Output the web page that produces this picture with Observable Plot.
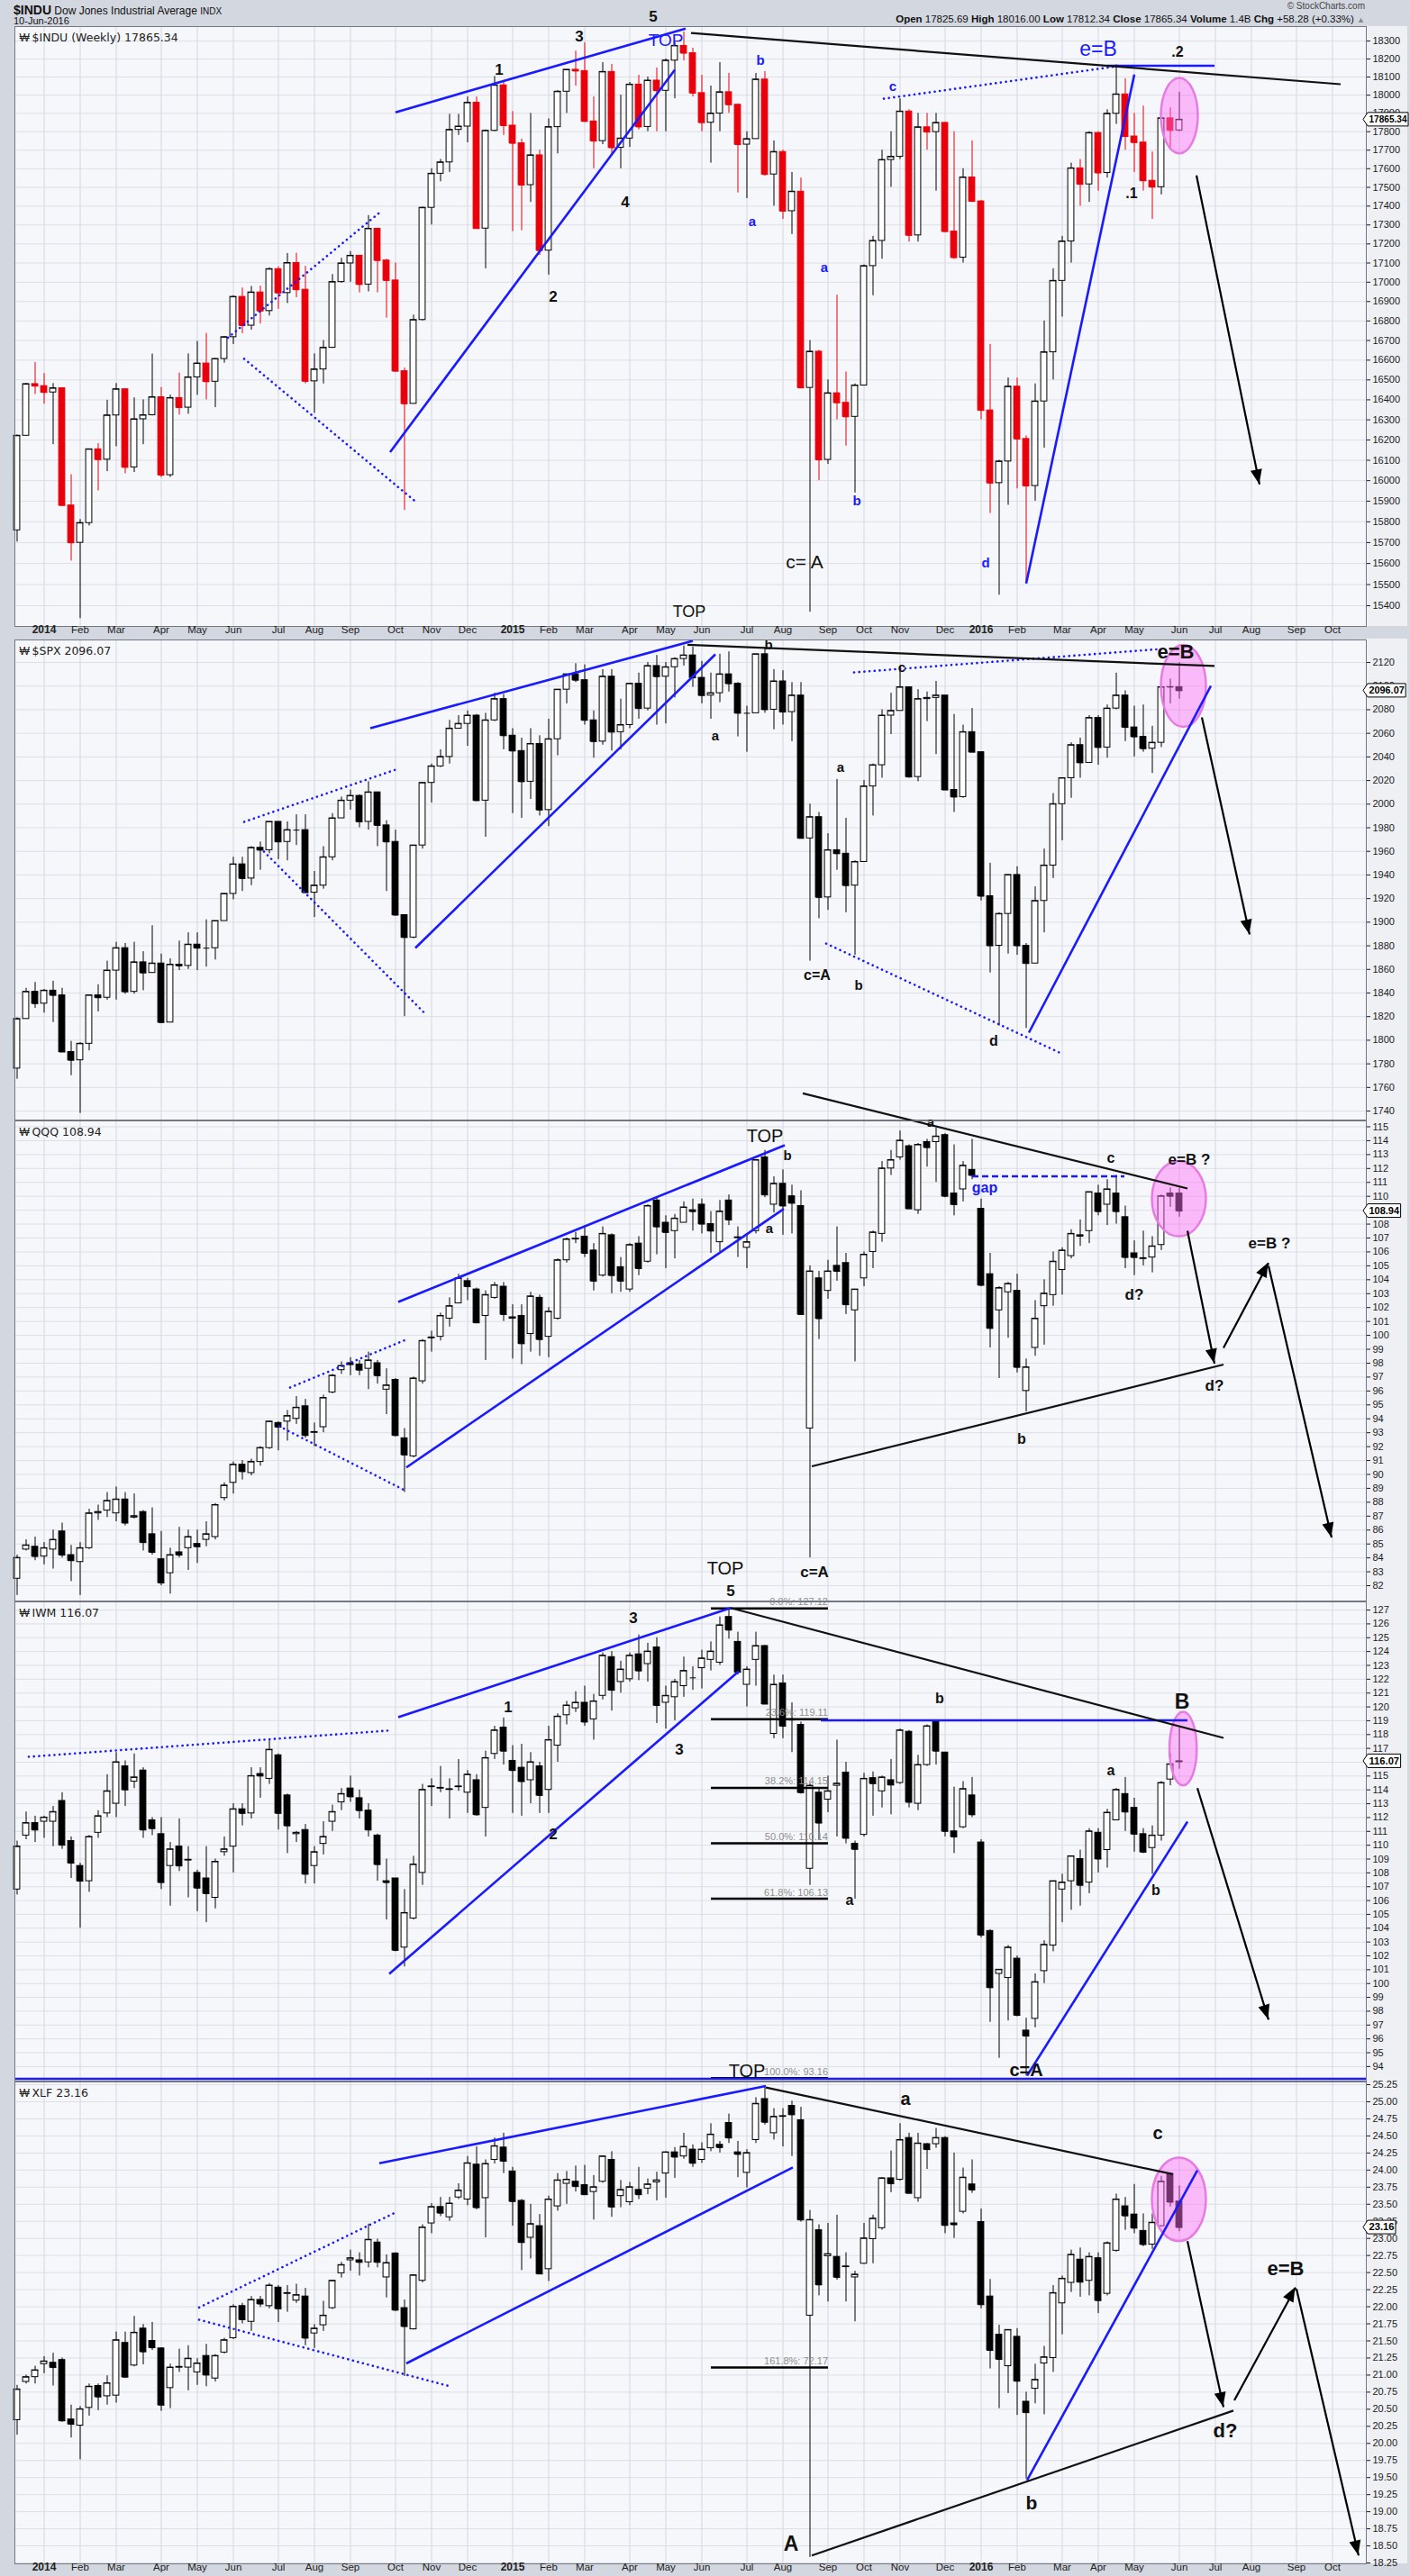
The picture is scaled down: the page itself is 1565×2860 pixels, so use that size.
<!DOCTYPE html>
<html>
<head>
<meta charset="utf-8">
<script src="https://cdn.jsdelivr.net/npm/d3@7"></script>
<script src="https://cdn.jsdelivr.net/npm/@observablehq/plot@0.6"></script>
<style>
html,body{margin:0;padding:0;background:#d3d7df;}
#wrap{position:relative;width:1565px;height:2860px;overflow:hidden;background:#d3d7df;font-family:"Liberation Sans",Arial,sans-serif;color:#111;}
#wrap svg{position:absolute;left:0;overflow:visible;}
.hd{position:absolute;white-space:nowrap;}
</style>
</head>
<body>
<div id="wrap">
 <div class="hd" style="left:1516px;top:29px;width:46px;height:666px;background:#eef0f4"></div>
 <div class="hd" style="left:1516px;top:709px;width:46px;height:2137px;background:#eef0f4"></div>
 <div class="hd" style="left:15px;top:3px;font-size:12px"><b style="font-size:14px">$INDU</b> Dow Jones Industrial Average <span style="font-size:10px">INDX</span></div>
 <div class="hd" style="left:15px;top:17px;font-size:11px">10-Jun-2016</div>
 <div class="hd" style="right:50px;top:1px;font-size:10px;color:#444">&copy; StockCharts.com</div>
 <div class="hd" style="right:50px;top:15px;font-size:11.5px"><b>Open</b> 17825.69 <b>High</b> 18016.00 <b>Low</b> 17812.34 <b>Close</b> 17865.34 <b>Volume</b> 1.4B <b>Chg</b> +58.28 (+0.33%) <span style="color:#888;font-size:9px">&#9650;</span></div>
</div>
<script>
// ---------- calendar (weekly bars, index 0 = week of 16-Dec-2013) ----------
const monthIdx = [3,7,11,16,20,24,29,33,37,42,46,50,55,59,63,68,72,76,81,85,90,94,98,103,107,111,116,120,124,129,133,137,142,146];
const monthNames = ["2014","Feb","Mar","Apr","May","Jun","Jul","Aug","Sep","Oct","Nov","Dec","2015","Feb","Mar","Apr","May","Jun","Jul","Aug","Sep","Oct","Nov","Dec","2016","Feb","Mar","Apr","May","Jun","Jul","Aug","Sep","Oct"];

// ---------- $INDU weekly ----------
const dowFirstOpen = 15759;
const dowC = [16221,16479,16469,16437,16458,15879,15699,15794,16154,16103,
16322,16453,16065,16303,16323,16413,16027,16409,16361,16513,
16583,16491,16606,16717,16924,16776,16947,16851,17068,16944,
17100,16961,16493,16553,16663,17001,17098,17138,16988,17280,
17113,17009,16544,16380,16805,17391,17573,17634,17810,17828,
17958,17281,17805,18054,17833,17737,17512,17672,17165,17825,
18019,18140,18133,17856,17749,18128,17713,17763,18058,17826,
18080,18024,18191,18273,18232,18011,17849,17899,18016,17947,
17730,17760,18086,17569,17690,17373,17477,16460,16643,16102,
16433,16385,16315,16472,17084,17216,17647,17664,17910,17245,
17824,17798,17848,17265,17128,17553,17425,16347,15988,16094,
16466,16205,15974,16392,16640,17007,17213,17602,17516,17793,
17577,17898,18004,17774,17741,17535,17501,17873,17807,17865.34];
const dowH = [16225,16483,16588,16532,16482,16459,16029,15811,16154,16182,
16398,16482,16453,16410,16400,16631,16462,16424,16535,16632,
16695,16736,16608,16720,16930,16970,16978,16980,17075,17080,
17150,17151,17083,16632,16700,17040,17125,17160,17135,17350,
17280,17120,17100,16560,16830,17395,17600,17650,17895,17895,
17990,17990,17810,18103,18080,17910,17760,17900,17700,17870,
18025,18140,18244,18290,17990,18180,18170,18000,18070,18110,
18100,18150,18200,18290,18351,18260,18110,18050,18180,18120,
17950,17800,18120,18130,17750,17700,17580,17550,16700,16650,
16500,16933,16540,16480,17090,17240,17700,17800,17980,17920,
17900,17900,17900,17850,17800,17600,17750,17430,16680,16100,
16510,16510,16220,16480,16800,17070,17240,17630,17650,17800,
17800,17920,18168,18090,17900,17940,17690,17880,17930,18016];
const dowL = [15703,16221,16427,16378,16177,15879,15612,15340,15780,15950,
16044,16167,16034,16040,16177,16320,16015,16016,16324,16328,
16423,16400,16361,16585,16680,16735,16753,16785,16825,16860,
16890,16920,16480,16333,16480,16660,16995,17000,16945,16950,
16945,16815,16540,15855,16380,16800,17300,17530,17580,17780,
17740,17280,17070,17800,17780,17265,17270,17420,17140,17037,
17680,17900,18050,17850,17600,17730,17680,17600,17715,17810,
17800,17800,17800,17980,18190,17990,17800,17630,17800,17900,
17470,17440,17760,17560,17400,17330,17250,16460,15370,16000,
16080,16300,16170,15940,16470,16930,17120,17500,17650,17210,
17210,17700,17480,17260,17120,17100,17420,16300,15840,15450,
15880,15960,15503,15900,16160,16500,16820,17100,17400,17420,
17480,17550,17840,17700,17580,17480,17330,17460,17700,17800];

// ---------- $SPX weekly ----------
const spxFirstOpen = 1776;
const spxC = [1818,1841,1831,1842,1838,1790,1783,1797,1838,1836,
1859,1878,1841,1866,1857,1865,1815,1864,1863,1881,
1878,1878,1901,1924,1949,1937,1963,1961,1985,1968,
1978,1978,1925,1931,1955,1988,2003,2007,1985,2010,
1982,1968,1906,1887,1965,2018,2032,2040,2064,2068,
2075,2003,2071,2089,2058,2045,2019,2051,1995,2055,
2097,2110,2105,2071,2053,2108,2061,2067,2102,2081,
2117,2108,2116,2123,2126,2107,2092,2094,2110,2102,
2077,2077,2127,2080,2104,2078,2092,1971,1989,1921,
1961,1958,1931,1951,2015,2033,2075,2079,2099,2023,
2089,2090,2092,2012,2006,2061,2044,1922,1880,1907,
1940,1880,1865,1918,1948,2000,2022,2050,2035,2073,
2048,2081,2092,2065,2057,2047,2052,2099.06,2099.13,2096.07];
const spxH = [1819,1844,1849,1843,1850,1844,1799,1798,1838,1847,
1867,1883,1882,1883,1875,1897,1873,1869,1884,1891,
1891,1902,1901,1924,1955,1955,1964,1968,1985,1985,
1985,1991,1991,1943,1964,1992,2006,2012,2008,2019,
2010,1986,1978,1906,1965,2018,2034,2046,2071,2075,
2079,2076,2077,2094,2093,2064,2056,2064,2058,2072,
2097,2110,2119,2118,2079,2114,2114,2089,2102,2111,
2120,2126,2120,2124,2134,2133,2121,2111,2127,2129,
2103,2083,2127,2132,2114,2113,2103,2103,2000,1993,
1975,2021,1988,1952,2020,2034,2080,2094,2116,2093,
2097,2095,2104,2090,2076,2067,2081,2038,1950,1908,
1940,1947,1882,1930,1962,2009,2022,2052,2056,2075,
2075,2084,2111,2096,2083,2084,2066,2100,2106,2120];
const spxL = [1767,1818,1827,1823,1815,1790,1770,1738,1791,1824,
1834,1834,1839,1839,1842,1857,1814,1816,1859,1860,
1859,1862,1868,1901,1919,1926,1931,1944,1958,1953,
1952,1965,1925,1904,1928,1952,1990,1995,1980,1978,
1964,1926,1905,1820,1886,1962,2001,2031,2034,2064,
2049,2002,1972,2070,2046,1992,1988,2004,1990,1981,
2041,2085,2103,2067,2039,2050,2045,2046,2064,2072,
2079,2067,2068,2090,2117,2099,2085,2072,2086,2095,
2057,2044,2079,2077,2063,2067,2053,1971,1867,1903,
1910,1944,1908,1872,1951,1990,2022,2059,2080,2022,
2019,2070,2042,2012,1993,2005,2044,1918,1857,1812,
1873,1872,1810,1865,1891,1937,1969,2005,2022,2035,
2033,2039,2080,2053,2040,2044,2026,2048,2085,2089];

// ---------- QQQ weekly ----------
const qqqO = [82.5,84.6,84.8,84.1,84.6,85.9,84.2,83.7,84.7,87.2,
87.4,87.2,88.2,86.9,87.3,85.7,83.9,82.9,84.4,84.7,
85.0,85.3,85.5,88.3,89.4,90.7,90.1,90.9,91.9,93.7,
93.8,94.0,94.9,93.0,93.4,95.9,97.5,98.0,97.9,97.6,
98.0,96.1,96.8,92.6,91.3,96.7,99.8,99.9,101.2,102.3,
103.9,103.3,101.4,102.7,103.5,101.2,101.4,100.1,102.7,99.9,
101.2,105.4,106.9,107.1,106.1,104.3,107.2,104.9,103.3,106.6,
105.3,109.7,108.1,107.5,108.1,109.0,109.4,108.0,106.7,109.7,
107.0,106.3,107.5,112.8,109.4,110.9,110.0,109.3,93.3,104.1,
103.2,105.0,105.2,101.8,104.1,106.0,107.3,112.0,112.8,113.6,
109.0,113.9,113.9,114.4,110.2,110.5,111.9,109.1,104.4,101.8,
103.1,103.2,96.0,99.1,102.1,102.9,104.7,105.7,107.1,107.5,
110.2,109.4,110.2,108.5,105.9,105.5,105.6,106.5,110.2,110.2];
const qqqH = [84.2,85.3,85.5,85.1,86.0,86.5,84.9,85.1,87.5,87.8,
88.7,89.1,88.7,88.6,87.4,87.6,85.9,84.7,86.2,86.0,
86.0,86.6,87.9,89.4,90.9,91.0,91.1,92.0,93.8,93.8,
94.6,95.6,95.4,93.7,95.7,97.2,98.1,98.4,98.2,98.8,
98.2,97.6,96.9,93.3,97.0,99.7,100.3,101.6,102.7,104.4,
104.1,103.4,103.2,103.8,103.8,102.2,102.2,103.1,102.9,102.0,
105.5,107.0,107.4,107.9,106.6,107.8,107.3,105.6,106.6,107.1,
109.4,109.9,108.6,108.7,109.6,109.8,109.8,108.9,109.7,110.1,
107.8,107.3,112.6,113.3,111.4,111.9,110.8,110.4,105.0,104.6,
105.4,107.8,105.9,103.3,106.0,107.5,112.5,113.3,114.7,113.7,
113.8,114.1,114.9,114.5,113.7,112.5,114.1,109.8,105.9,103.5,
103.8,104.4,98.3,102.5,104.0,106.0,106.3,107.6,108.3,110.3,
110.8,111.2,111.5,109.3,106.8,107.5,107.1,110.1,110.6,110.6];
const qqqL = [81.3,84.5,83.8,83.5,83.2,84.0,82.3,81.3,84.6,86.7,
86.9,86.6,86.3,86.8,84.5,84.2,82.0,81.4,84.0,83.1,
83.6,84.8,85.3,88.1,88.6,89.6,89.9,90.6,91.8,91.7,
92.4,93.6,92.6,92.0,93.0,95.8,97.2,97.1,97.1,96.1,
96.5,94.3,92.7,88.7,91.2,96.5,98.8,99.6,100.6,102.3,
102.5,100.9,98.2,102.6,101.0,98.3,97.9,98.8,98.5,98.4,
101.1,105.2,106.6,105.6,103.2,104.2,103.0,103.1,103.1,104.3,
105.2,105.8,104.8,105.5,108.1,107.5,107.3,105.9,106.0,107.9,
105.6,104.8,107.3,109.9,108.8,107.2,107.3,101.5,84.0,99.7,
102.6,103.9,101.5,98.1,103.5,104.8,106.7,111.5,112.6,109.1,
108.7,112.1,111.0,109.9,108.6,109.6,111.2,103.5,99.1,96.9,
99.8,97.3,94.5,98.5,99.3,102.1,102.9,105.5,106.4,106.6,
108.6,107.9,108.0,104.8,104.3,105.0,104.5,106.1,109.2,108.5];
const qqqC = [84.0,84.9,84.1,84.7,85.3,84.2,83.8,84.7,87.2,87.3,
88.1,88.2,86.5,87.0,85.1,84.4,82.2,84.2,84.2,85.5,
84.8,85.7,87.8,89.2,90.7,90.2,90.9,91.9,93.8,93.4,
94.2,94.8,92.8,93.05,95.5,97.1,97.8,97.9,97.5,98.2,
97.1,96.4,92.8,91.4,96.9,99.6,99.85,101.4,102.1,104.1,
103.5,100.9,102.9,103.6,101.5,101.3,99.4,102.8,99.7,101.7,
105.4,106.9,106.95,105.9,103.9,107.3,104.3,103.9,106.5,104.8,
109.3,107.8,107.4,108.4,109.2,108.9,108.0,107.5,108.9,108.3,
107.05,106.7,112.6,110.1,110.9,109.3,109.5,101.5,104.6,101.2,
104.6,104.6,102.2,103.3,105.8,107.4,112.0,112.6,114.0,109.1,
113.7,113.5,114.3,110.0,109.4,112.2,111.5,103.6,100.5,103.4,
103.7,97.7,97.7,101.2,103.0,105.3,106.1,107.3,107.2,110.3,
108.9,110.5,108.9,105.6,105.6,105.55,106.4,110.0,110.0,108.94];

// ---------- IWM weekly ----------
const iwmO = [106.8,110.7,111.6,111.7,111.7,113.2,110.3,108.5,107.4,110.9,
112.3,113.0,115.7,114.6,115.4,111.8,110.8,108.5,109.9,108.9,
108.0,107.6,106.2,109.5,109.9,112.6,112.3,115.15,114.8,116.5,
113.6,110.8,111.1,108.5,110.1,111.7,113.1,114.1,113.4,112.5,
110.7,107.4,107.6,102.6,104.7,108.0,114.2,114.1,114.0,114.2,
113.8,114.7,112.7,116.6,118.5,116.1,115.6,114.7,115.7,114.0,
117.2,119.4,119.9,120.3,119.1,120.8,123.6,121.8,122.0,123.8,
123.1,124.3,120.3,120.7,121.5,122.1,122.8,123.4,123.2,126.5,
124.7,121.6,123.4,124.4,118.05,121.7,119.1,118.7,108.3,113.8,
113.3,114.3,115.25,110.1,110.75,114.85,113.9,114.7,114.5,118.2,
113.0,115.8,118.97,116.7,111.0,111.3,113.6,110.2,103.8,100.7,
100.4,101.8,96.6,97.45,100.9,102.75,106.8,107.4,109.0,107.3,
110.9,109.65,111.8,113.7,112.7,110.8,109.8,110.7,114.75,116.0];
const iwmH = [110.3,112.4,112.1,112.1,112.8,113.8,110.6,108.7,110.7,112.5,
115.1,116.7,116.1,116.6,115.6,112.0,112.0,110.2,111.9,109.9,
108.2,109.9,109.0,110.6,113.0,113.0,115.6,115.6,117.6,116.6,
113.7,111.0,111.5,109.9,111.7,112.9,114.1,115.0,114.0,113.0,
110.8,109.0,107.6,106.8,109.2,114.4,114.8,115.7,114.8,116.2,
115.4,115.1,116.8,118.6,119.2,117.2,117.3,116.7,116.0,118.6,
119.5,120.4,121.1,121.5,120.9,123.9,124.0,123.3,123.9,125.2,
124.6,125.0,121.5,122.0,123.6,122.9,124.1,124.7,126.5,127.1,
125.4,122.9,125.4,124.45,122.3,122.3,120.3,118.9,114.45,114.05,
115.0,117.6,116.0,110.3,115.2,115.3,115.0,116.2,118.4,118.3,
116.5,118.7,119.0,116.7,114.2,114.6,114.9,110.4,103.9,101.0,
102.75,102.0,97.5,100.7,103.1,107.4,107.9,109.2,109.65,111.2,
111.2,112.6,114.1,114.9,113.4,111.2,111.4,114.6,116.6,118.5];
const iwmL = [106.4,110.4,110.2,110.5,109.9,109.7,107.6,104.0,106.6,110.5,
112.0,112.0,112.8,114.1,110.5,110.7,106.8,105.6,108.1,106.2,
105.2,104.4,105.4,109.2,108.0,111.4,111.9,113.4,114.4,111.1,
109.4,110.2,107.2,107.2,109.3,111.0,112.5,113.1,111.9,110.6,
107.4,104.6,102.3,101.2,104.6,107.1,112.8,113.8,111.9,113.9,
112.3,112.1,110.6,116.2,115.8,112.3,112.1,113.0,112.3,112.3,
116.0,118.7,119.6,118.6,117.6,120.5,119.7,121.0,121.8,121.9,
121.8,118.8,118.4,119.0,120.7,121.2,121.3,122.6,123.0,124.9,
122.3,120.0,121.5,120.2,117.7,117.7,116.7,113.7,107.1,110.4,
112.35,110.6,110.1,106.1,110.6,112.1,112.7,112.2,114.4,112.7,
112.5,115.7,115.8,110.6,109.4,111.2,112.0,103.3,97.2,94.6,
97.3,97.6,93.3,96.8,100.0,102.3,104.4,105.3,105.6,106.5,
108.0,108.35,111.8,111.0,109.5,109.4,107.9,110.3,114.3,115.5];
const iwmC = [109.9,111.6,111.1,112.0,112.4,110.0,108.7,107.4,110.6,112.1,
113.9,116.0,114.0,114.9,111.1,111.2,107.3,109.7,108.5,108.95,
106.9,106.5,108.8,109.7,112.6,112.3,115.0,115.0,116.9,112.3,
111.4,110.9,107.9,109.5,110.6,112.4,113.7,113.5,112.5,111.1,
108.6,107.3,102.4,105.1,108.6,114.0,114.25,114.15,114.05,114.25,
115.1,112.2,116.3,118.3,116.8,115.4,114.6,116.0,113.6,117.6,
119.3,120.1,120.3,118.9,120.4,123.7,121.2,122.7,123.7,122.6,
124.0,120.1,120.8,121.8,122.6,122.1,123.5,124.0,125.9,125.55,
122.5,122.7,124.4,120.2,121.6,118.6,119.05,113.8,114.3,111.6,
113.9,114.45,110.5,109.7,114.8,114.45,114.9,114.35,118.3,113.1,
115.8,118.6,116.8,111.0,110.6,114.06,112.2,103.5,99.7,101.0,
102.6,97.7,96.2,100.1,102.8,107.4,107.3,109.2,107.1,111.0,
109.0,112.35,114.0,112.4,110.8,109.5,110.7,114.5,115.85,116.07];

// ---------- XLF weekly ----------
const xlfO = [20.34,20.90,20.97,21.16,21.18,21.22,20.35,20.26,20.52,20.84,
20.69,20.70,21.47,21.14,21.68,21.50,21.39,20.81,21.11,21.11,
21.04,21.28,20.95,21.33,21.54,22.01,21.78,22.10,22.01,22.28,
22.19,22.09,22.15,21.61,21.73,21.98,22.49,22.68,22.68,22.65,
22.94,22.43,22.78,21.98,21.67,22.38,23.22,23.46,23.31,23.60,
23.57,24.08,23.59,24.15,24.33,23.98,23.55,23.01,23.18,22.55,
23.47,23.80,23.83,23.78,23.68,23.83,24.15,23.62,23.53,23.71,
23.73,23.82,23.95,24.26,24.20,24.30,24.15,24.32,24.37,24.69,
24.26,23.96,24.44,25.04,24.54,24.78,24.94,24.73,21.87,23.12,
22.74,22.73,22.58,22.43,22.63,22.99,23.15,23.88,23.86,24.47,
23.59,24.38,24.38,24.47,23.22,23.39,23.79,23.24,22.15,21.59,
21.13,21.56,20.61,20.80,21.17,21.25,22.05,22.35,22.69,22.38,
22.71,22.19,22.82,23.47,23.35,23.11,22.91,23.18,23.94,23.54];
const xlfH = [20.85,21.00,21.13,21.27,21.32,21.25,20.56,20.54,20.87,20.87,
20.99,21.63,21.63,21.86,21.74,21.77,21.40,21.16,21.38,21.43,
21.24,21.45,21.30,21.54,22.03,22.05,22.15,22.15,22.34,22.31,
22.31,22.33,22.27,21.74,22.08,22.39,22.65,22.83,22.79,23.21,
22.99,22.76,22.79,22.10,22.47,23.20,23.51,23.60,23.60,23.80,
24.20,24.34,24.15,24.47,24.54,24.04,23.57,23.50,23.35,23.62,
23.95,23.98,24.06,24.07,23.92,24.21,24.27,23.85,23.82,24.04,
23.87,23.97,24.27,24.33,24.54,24.37,24.40,24.68,24.42,24.82,
24.42,24.30,25.06,25.21,24.90,24.90,25.01,24.92,23.41,23.20,
23.22,23.34,22.79,22.52,23.22,23.34,23.89,24.28,24.68,24.54,
24.54,24.39,24.61,24.49,24.25,24.03,24.15,23.43,22.40,21.73,
21.66,21.68,20.75,21.16,21.42,22.31,22.45,22.83,22.86,22.79,
22.79,22.95,23.65,23.60,23.79,23.36,23.36,23.91,23.96,23.77];
const xlfL = [20.12,20.87,20.87,21.02,20.84,20.31,20.08,19.76,20.40,20.48,
20.56,20.59,20.95,21.12,21.15,21.36,20.47,20.51,21.04,20.77,
20.85,20.83,20.90,21.31,21.52,21.75,21.64,21.99,21.97,21.77,
21.92,22.05,21.43,21.39,21.64,21.96,22.42,22.52,22.45,22.57,
22.57,22.13,21.93,20.98,21.66,22.35,23.07,23.32,23.25,23.57,
23.48,23.42,23.01,24.09,23.95,23.18,22.53,22.70,22.48,22.37,
23.40,23.50,23.68,23.65,23.27,23.81,23.31,23.45,23.48,23.57,
23.64,23.55,23.59,23.88,24.16,24.04,24.10,24.27,24.25,24.39,
23.89,23.74,24.39,24.66,24.44,24.34,24.20,23.24,18.33,22.16,
22.07,22.39,22.07,21.78,22.62,22.63,23.12,23.67,23.84,23.65,
23.53,24.01,24.32,23.07,23.00,23.36,23.66,21.97,21.09,20.51,
20.73,20.41,19.48,20.58,20.42,21.04,21.59,22.21,22.14,22.16,
21.90,22.16,22.80,23.12,23.07,22.88,22.84,23.17,23.46,23.10];
const xlfC = [20.79,20.97,21.07,21.20,21.11,20.33,20.28,20.50,20.83,20.68,
20.88,21.51,20.97,21.62,21.34,21.40,20.56,21.11,21.12,21.24,
21.17,21.00,21.28,21.51,22.00,21.81,22.10,22.04,22.31,21.97,
22.20,22.17,21.54,21.68,21.87,22.38,22.61,22.71,22.65,22.98,
22.65,22.64,21.95,21.71,22.46,23.16,23.46,23.37,23.51,23.70,
24.10,23.45,24.09,24.35,24.13,23.54,22.94,23.21,22.48,23.57,
23.85,23.86,23.76,23.64,23.75,24.20,23.46,23.71,23.75,23.64,
23.79,23.85,24.26,24.19,24.34,24.10,24.30,24.52,24.33,24.47,
24.23,24.25,24.97,24.70,24.78,24.79,24.81,23.27,23.27,22.32,
22.77,22.43,22.59,22.47,23.00,23.29,23.88,23.80,24.44,23.66,
24.39,24.30,24.47,23.19,23.20,23.89,23.71,22.03,21.36,21.23,
21.66,20.91,20.45,20.93,21.26,22.20,22.41,22.76,22.36,22.73,
22.09,22.93,23.57,23.33,23.15,22.91,23.23,23.83,23.53,23.16];

// ---------- annotations: [week, price, week, price] ----------
const BLUE = "#1a1aff", INK = "#111111";
const induAnn = {
  blue: [[42,17906,74.2,18370],[41.4,16140,73,18140],[112,15505,124,18114],[121,18162,132.9,18162]],
  dotted: [[23.4,16714,40.5,17376],[25.2,16607,44.2,15899],[96.2,17980,122.2,18160]],
  black: [[74.8,18345,146.9,18060]],
  arrows: [[130.9,17564,137.9,15982]],
  ellipse: [[127,18093,131.1,17680]],
  labels: [[53.5,18140,"1",INK,17,"b"],[59.5,16922,"2",INK,17,"b"],[62.4,18325,"3",INK,17,"b"],
    [67.5,17420,"4",INK,17,"b"],[70.6,18437,"5",INK,17,"b"],[72,18305,"TOP",BLUE,19,"n"],
    [81.6,17316,"a",BLUE,15,"b"],[82.5,18190,"b",BLUE,15,"b"],[89.6,17074,"a",BLUE,15,"b"],
    [93.2,15899,"b",BLUE,15,"b"],[87.4,15608,"c= A",INK,21,"n"],[97.2,18048,"c",BLUE,15,"b"],
    [107.5,15600,"d",BLUE,15,"b"],[120,18254,"e=B",BLUE,23,"n"],[128.8,18240,".2",INK,16,"b"],
    [123.7,17466,".1",INK,16,"b"]]
};
const spxAnn = {
  blue: [[39.2,2064.3,75,2138.3],[44.2,1878.1,77.5,2126.9],[112.3,1806.4,132.5,2100.2]],
  dotted: [[25.2,1985,42,2029.2],[27.4,1959.8,45.3,1822.4],[92.9,2111.6,126.9,2131.4],[89.8,1881.9,115.9,1788.8]],
  black: [[74.4,2135,132.9,2117]],
  arrows: [[131.5,2073.5,136.8,1889.6]],
  ellipse: [[127,2134.5,132,2065]],
  labels: [[74.6,2162.7,"TOP",INK,18,"n"],[83.4,2135,"b",INK,15,"b"],[77.5,2057.4,"a",INK,15,"b"],
    [91.4,2030.7,"a",INK,15,"b"],[98.2,2115.4,"c",INK,15,"b"],[88.8,1855.2,"c=A",INK,16,"b"],
    [93.4,1846,"b",INK,15,"b"],[108.4,1799.5,"d",INK,16,"b"],[128.6,2129.2,"e=B",INK,22,"b"]]
};
const qqqAnn = {
  blue: [[42.3,102.4,85.2,113.67],[43.2,90.5,85.1,109.1]],
  dotted: [[30.3,96.25,43.2,99.7],[29.1,93.46,43.2,88.8]],
  dashed: [[106,111.44,122.9,111.44]],
  black: [[87.2,117.4,129.9,110.56],[88.2,90.58,133.9,97.9]],
  arrows: [[129.9,107.52,132.9,97.96],[133.9,99.1,138.9,105.2],[138.9,105.0,145.9,85.46]],
  ellipse: [[126,112.51,132,107.09]],
  labels: [[83,114.3,"TOP",INK,20,"n"],[85.5,112.9,"b",INK,15,"b"],[83.5,107.65,"a",INK,15,"b"],
    [88.5,83.0,"c=A",INK,17,"b"],[101.4,115.3,"a",INK,15,"b"],[107.4,110.6,"gap",BLUE,16,"b"],
    [111.5,92.56,"b",INK,16,"b"],[121.4,112.77,"c",INK,16,"b"],[124,102.9,"d?",INK,17,"b"],
    [130.1,112.66,"e=B ?",INK,17,"b"],[139,106.6,"e=B ?",INK,17,"b"],[132.9,96.4,"d?",INK,17,"b"]]
};
const iwmAnn = {
  blue: [[42.3,119.25,79.2,127.15],[41.3,100.7,80.1,122.58],[112.1,93.34,129.9,111.7],[89.2,119.03,129.9,119.03],[-0.25,93.11,149.75,93.11]],
  dotted: [[1.3,116.39,41.1,118.28]],
  black: [[79.2,127.15,133.9,117.76]],
  fib: [[77,90,127.12,"0.0%: 127.12"],[77,90,119.11,"23.6%: 119.11"],[77,90,114.15,"38.2%: 114.15"],
    [77,90,110.14,"50.0%: 110.14"],[77,90,106.13,"61.8%: 106.13"],[77,90,93.16,"100.0%: 93.16"]],
  arrows: [[131,114.13,138.9,97.39]],
  ellipse: [[127.95,119.61,130.98,114.29]],
  labels: [[79.2,128.37,"5",INK,17,"b"],[78.6,130.0,"TOP",INK,20,"n"],[68.4,126.4,"3",INK,17,"b"],
    [54.5,120.0,"1",INK,17,"b"],[59.5,110.8,"2",INK,17,"b"],[73.5,116.9,"3",INK,17,"b"],
    [102.4,120.57,"b",INK,16,"b"],[92.4,106.0,"a",INK,16,"b"],[121.4,115.37,"a",INK,16,"b"],
    [126.4,106.75,"b",INK,16,"b"],[129.3,120.34,"B",INK,23,"b"],[112,93.75,"c=A",INK,20,"b"],
    [81,93.65,"TOP",INK,20,"n"]]
};
const xlfAnn = {
  blue: [[40.2,24.10,83.1,25.23],[43.2,21.17,86.1,24.04],[112.1,19.46,131,23.995]],
  dotted: [[20.2,21.99,42,23.38],[20.2,21.81,48.2,20.83]],
  black: [[83.1,25.21,128.3,23.94],[88.2,18.36,135,20.48]],
  fib: [[77,90,21.11,"161.8%: 72.17"]],
  arrows: [[129.9,22.96,133.9,20.53],[135.1,20.63,141.9,22.28],[142,22.26,148.9,18.36]],
  ellipse: [[126,24.177,132,22.955]],
  labels: [[98.6,25.04,"a",INK,20,"b"],[126.6,24.54,"c",INK,20,"b"],[140.8,22.56,"e=B",INK,22,"b"],
    [134.1,20.18,"d?",INK,22,"b"],[112.6,19.12,"b",INK,21,"b"],[85.9,18.52,"A",INK,23,"b"]]
};

// ---------- helpers ----------
const wrap = document.getElementById("wrap");
const FONT = '"Liberation Sans", Arial, sans-serif';
function bars(o, h, l, c) { return c.map((v, i) => ({i, o: o[i], h: h[i], l: l[i], c: v})); }
const dowO = [dowFirstOpen].concat(dowC.slice(0, -1));
const spxO = [spxFirstOpen].concat(spxC.slice(0, -1));
const months = monthIdx.map((i, k) => ({i, n: monthNames[k], yr: /^\d{4}$/.test(monthNames[k])}));

function seg(arr, opt) {
  return Plot.link(arr || [], {x1: s => s[0], y1: s => s[1], x2: s => s[2], y2: s => s[3], ...opt});
}
function ellipseMark(list) {
  return (index, scales) => {
    const g = d3.create("svg:g");
    for (const e of list || []) {
      const x1 = scales.x(e[0]), y1 = scales.y(e[1]), x2 = scales.x(e[2]), y2 = scales.y(e[3]);
      g.append("ellipse").attr("cx", (x1 + x2) / 2).attr("cy", (y1 + y2) / 2)
        .attr("rx", Math.abs(x2 - x1) / 2).attr("ry", Math.abs(y2 - y1) / 2)
        .attr("fill", "#ff6cf3").attr("fill-opacity", 0.45)
        .attr("stroke", "#e77be4").attr("stroke-width", 2.5);
    }
    return g.node();
  };
}
function headTagMark(arrows, tagVal, tagText) {
  return (index, scales, values, dims) => {
    const g = d3.create("svg:g");
    for (const a of arrows || []) {
      const x0 = scales.x(a[0]), y0 = scales.y(a[1]), x1 = scales.x(a[2]), y1 = scales.y(a[3]);
      const ang = Math.atan2(y1 - y0, x1 - x0), L = 16, W = 6.5;
      const bx = x1 - L * Math.cos(ang), by = y1 - L * Math.sin(ang);
      const px = -Math.sin(ang) * W, py = Math.cos(ang) * W;
      g.append("polygon").attr("points", `${x1},${y1} ${bx + px},${by + py} ${bx - px},${by - py}`).attr("fill", "#000");
    }
    const y = scales.y(tagVal), x = dims.width - dims.marginRight - 3;
    const w = Math.min(tagText.length * 5.6 + 3, dims.width - x - 7);
    g.append("path").attr("d", `M${x},${y}L${x + 5},${y - 7.5}L${x + 5 + w},${y - 7.5}L${x + 5 + w},${y + 7.5}L${x + 5},${y + 7.5}Z`)
      .attr("fill", "#fff").attr("stroke", "#000").attr("stroke-width", 1);
    g.append("text").attr("x", x + 5 + w / 2).attr("y", y).attr("dy", "0.36em").attr("text-anchor", "middle")
      .attr("font-weight", "bold").attr("font-size", 10.5)
      .attr("textLength", w - 3).attr("lengthAdjust", "spacingAndGlyphs")
      .attr("fill", "#000").text(tagText);
    return g.node();
  };
}

function panel(p) {
  const d = p.data, A = p.ann, hw = 0.34;
  const up = x => x.c >= x.o;
  const bodyFill = p.red ? (x => up(x) ? "#ffffff" : "#e8000a") : (x => up(x) ? "#ffffff" : "#000000");
  const lineCol = p.red ? (x => up(x) ? "#000000" : "#e8000a") : (() => "#000000");
  const marks = [
    Plot.frame({fill: "#f6f7fb", stroke: "none"}),
    Plot.ruleY(p.ticks, {stroke: "#dcdfe6", strokeWidth: 1}),
    Plot.ruleX(monthIdx, {stroke: "#d3d7de", strokeWidth: 1}),
    Plot.ruleX(d, {x: "i", y1: "l", y2: "h", stroke: lineCol, strokeWidth: 1}),
    Plot.rect(d, {x1: x => x.i - hw, x2: x => x.i + hw, y1: "o", y2: "c", fill: bodyFill, stroke: lineCol, strokeWidth: 1}),
    Plot.link(d, {x1: x => x.i - hw, x2: x => x.i + hw, y1: "c", y2: "c", stroke: lineCol, strokeWidth: 1}),
    ellipseMark(A.ellipse),
    Plot.link(A.fib || [], {x1: f => f[0], x2: f => f[1], y1: f => f[2], y2: f => f[2], stroke: "#000", strokeWidth: 2.5}),
    Plot.text(A.fib || [], {x: f => f[1], y: f => f[2], text: f => f[3], textAnchor: "end", dy: -7, fill: "#8f8f8f", fontSize: 11}),
    seg(A.dotted, {stroke: BLUE, strokeWidth: 2.6, strokeDasharray: "0.1,5.6", strokeLinecap: "round"}),
    seg(A.dashed, {stroke: BLUE, strokeWidth: 2.6, strokeDasharray: "7,4"}),
    seg(A.blue, {stroke: BLUE, strokeWidth: 2.6}),
    seg(A.black, {stroke: INK, strokeWidth: 2.2}),
    seg(A.arrows, {stroke: "#000", strokeWidth: 2.2}),
    Plot.text(A.labels.filter(l => l[5] === "b"), {x: l => l[0], y: l => l[1], text: l => l[2], fill: l => l[3], fontSize: l => l[4], fontWeight: "bold"}),
    Plot.text(A.labels.filter(l => l[5] === "n"), {x: l => l[0], y: l => l[1], text: l => l[2], fill: l => l[3], fontSize: l => l[4]}),
    Plot.text(["\u20A9"], {text: t => t, frameAnchor: "top-left", dx: 5, dy: 8, textAnchor: "start", fontSize: 12, fill: "#222"}),
    Plot.text([p.title], {text: t => t, frameAnchor: "top-left", dx: 19, dy: 8, textAnchor: "start", fontSize: 12.5, fill: "#222", fontFamily: '"DejaVu Sans", sans-serif'}),
    Plot.frame({stroke: "#737882", strokeWidth: 1}),
    headTagMark(A.arrows, p.tagVal, p.tagText)
  ];
  if (p.months) {
    marks.push(Plot.text(months.filter(m => !m.yr), {x: "i", text: "n", frameAnchor: "bottom", dy: 7, fontSize: 11.5, fill: "#222"}));
    marks.push(Plot.text(months.filter(m => m.yr), {x: "i", text: "n", frameAnchor: "bottom", dy: 7, fontSize: 12, fontWeight: "bold", fill: "#222"}));
  }
  const svg = Plot.plot({
    width: 1565, height: p.height,
    marginLeft: 16, marginRight: 49, marginTop: p.mt, marginBottom: p.mb,
    x: {domain: [-0.25, 149.75], axis: null},
    y: {type: p.yType, domain: p.yDomain, axis: "right", ticks: p.ticks, tickFormat: p.fmt, tickSize: 4, tickPadding: 3, label: null},
    color: {type: "identity"},
    style: {background: "transparent", overflow: "visible", fontFamily: FONT, fontSize: "11px", color: "#1a1a1a"},
    marks
  });
  svg.style.top = p.top + "px";
  wrap.appendChild(svg);
}

panel({data: bars(dowO, dowH, dowL, dowC), red: true, top: 0, height: 709, mt: 29, mb: 14, months: true,
  yType: "log", yDomain: [15303, 18381], ticks: d3.range(15400, 18301, 100), fmt: d3.format("d"),
  ann: induAnn, title: "$INDU (Weekly) 17865.34", tagVal: 17865.34, tagText: "17865.34"});
panel({data: bars(spxO, spxH, spxL, spxC), top: 709, height: 534, mt: 1, mb: 0,
  yType: "linear", yDomain: [1732.4, 2139.1], ticks: d3.range(1740, 2121, 20), fmt: d3.format("d"),
  ann: spxAnn, title: "$SPX 2096.07", tagVal: 2096.07, tagText: "2096.07"});
panel({data: bars(qqqO, qqqH, qqqL, qqqC), top: 1243, height: 534, mt: 1, mb: 0,
  yType: "linear", yDomain: [80.9, 115.42], ticks: d3.range(82, 116, 1), fmt: d3.format("d"),
  ann: qqqAnn, title: "QQQ 108.94", tagVal: 108.94, tagText: "108.94"});
panel({data: bars(iwmO, iwmH, iwmL, iwmC), top: 1777, height: 533, mt: 1, mb: 0,
  yType: "linear", yDomain: [92.95, 127.59], ticks: d3.range(94, 128, 1), fmt: d3.format("d"),
  ann: iwmAnn, title: "IWM 116.07", tagVal: 116.07, tagText: "116.07"});
panel({data: bars(xlfO, xlfH, xlfL, xlfC), top: 2310, height: 550, mt: 1, mb: 14, months: true,
  yType: "linear", yDomain: [18.237, 25.29], ticks: d3.range(73, 102).map(k => k / 4), fmt: d3.format(".2f"),
  ann: xlfAnn, title: "XLF 23.16", tagVal: 23.16, tagText: "23.16"});
</script>
</body>
</html>
